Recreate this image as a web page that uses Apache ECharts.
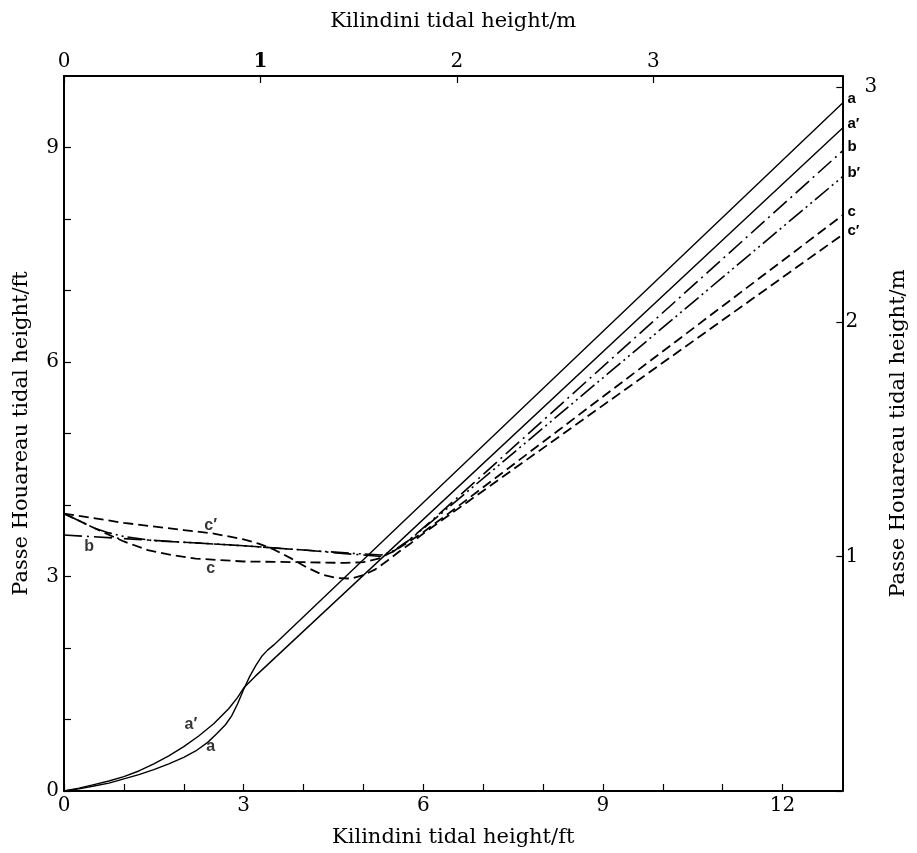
<!DOCTYPE html>
<html>
<head>
<meta charset="utf-8">
<title>Kilindini / Passe Houareau tidal heights</title>
<script src="https://cdn.jsdelivr.net/npm/echarts@6/dist/echarts.min.js"></script>
<style>
  html, body { margin: 0; padding: 0; background: #fff; }
  #chart { width: 917px; height: 853px; }
</style>
</head>
<body>
<div id="chart"></div>
<script>
// Kilindini tidal height (ft) against Passe Houareau tidal height (ft)
const FT_TO_M = 0.3048;
const X_MAX_FT = 13;
const Y_MAX_FT = 10;

// curve a
const aX = [0, 0.25, 0.5, 0.75, 1, 1.25, 1.5, 1.75, 2, 2.2, 2.4, 2.55, 2.7, 2.8, 2.9, 3.0, 3.1, 3.2, 3.3, 3.4, 3.5, 13];
const aY = [0, 0.03, 0.07, 0.11, 0.17, 0.23, 0.3, 0.38, 0.47, 0.56, 0.68, 0.8, 0.93, 1.05, 1.22, 1.42, 1.6, 1.75, 1.88, 1.97, 2.04, 9.62];
// curve a'
const aPX = [0, 0.25, 0.5, 0.75, 1, 1.25, 1.5, 1.75, 2, 2.25, 2.5, 2.75, 2.9, 3.0, 3.2, 13];
const aPY = [0, 0.04, 0.09, 0.14, 0.2, 0.28, 0.38, 0.49, 0.62, 0.77, 0.94, 1.15, 1.31, 1.44, 1.61, 9.27];
// curve b
const bX = [0, 1, 2, 3, 4, 4.7, 5.3, 5.5, 5.75, 6, 6.3, 13];
const bY = [3.58, 3.53, 3.48, 3.43, 3.37, 3.32, 3.28, 3.35, 3.5, 3.68, 3.9, 8.95];
// curve b'
const bPX = [0, 0.25, 0.5, 0.75, 1.0, 1.5, 2.2, 3, 4, 4.7, 5.3, 5.5, 5.75, 6, 6.3, 13];
const bPY = [3.88, 3.78, 3.68, 3.61, 3.56, 3.5, 3.47, 3.43, 3.37, 3.33, 3.3, 3.36, 3.5, 3.67, 3.88, 8.59];
// curve c
const cX = [0, 0.3, 0.6, 1, 1.4, 1.8, 2.2, 3, 4, 4.7, 5.0, 5.25, 5.5, 5.75, 6, 6.5, 13];
const cY = [3.88, 3.76, 3.64, 3.49, 3.37, 3.3, 3.25, 3.21, 3.2, 3.19, 3.2, 3.25, 3.35, 3.48, 3.62, 3.93, 8.05];
// curve c'
const cPX = [0, 1, 2, 2.5, 3.0, 3.25, 3.5, 3.8, 4.05, 4.3, 4.55, 4.8, 5.0, 5.2, 5.4, 5.6, 5.8, 6.0, 6.5, 13];
const cPY = [3.88, 3.75, 3.65, 3.6, 3.52, 3.46, 3.38, 3.25, 3.13, 3.03, 2.98, 2.97, 3.02, 3.1, 3.22, 3.35, 3.47, 3.6, 3.9, 7.78];

// curve names
const curveNames = ['a', 'a\u2032', 'b', 'b\u2032', 'c', 'c\u2032'];

// tick labels
const ftTickLabels = [0, 3, 6, 9, 12];
const leftTickLabels = [0, 3, 6, 9];
const mTickLabels = [0, 1, 2, 3];
const rightTickLabels = [1, 2, 3];

// in-plot curve tags (anchor in ft coordinates)
const tagNames = ['c\u2032', 'c', 'b', 'a\u2032', 'a'];
const tagX = [2.45, 2.45, 0.42, 2.12, 2.45];
const tagY = [3.72, 3.12, 3.42, 0.93, 0.63];

const serif = '"DejaVu Serif", "Liberation Serif", serif';
const sans = '"Liberation Sans", "DejaVu Sans", sans-serif';

const zip = (xs, ys) => xs.map((x, i) => [x, ys[i]]);

const lineDefs = [
  { name: curveNames[0], xs: aX, ys: aY, type: 'solid', width: 1.4 },
  { name: curveNames[1], xs: aPX, ys: aPY, type: 'solid', width: 1.4 },
  { name: curveNames[2], xs: bX, ys: bY, type: [18, 5, 2, 5], width: 1.6 },
  { name: curveNames[3], xs: bPX, ys: bPY, type: [18, 4, 2, 4, 2, 4], width: 1.6 },
  { name: curveNames[4], xs: cX, ys: cY, type: [10, 5], width: 1.8 },
  { name: curveNames[5], xs: cPX, ys: cPY, type: [10, 5], width: 1.8 }
];

const series = lineDefs.map(d => ({
  name: d.name,
  type: 'line',
  xAxisIndex: 0,
  yAxisIndex: 0,
  data: zip(d.xs, d.ys),
  smooth: false,
  showSymbol: false,
  symbol: 'none',
  silent: true,
  clip: false,
  itemStyle: { color: '#000' },
  lineStyle: { color: '#000', width: d.width, type: d.type, cap: 'butt', join: 'round' },
  endLabel: {
    show: true,
    formatter: d.name,
    distance: 5,
    offset: [0, -4],
    color: '#000',
    fontFamily: sans,
    fontWeight: 'bold',
    fontSize: 15
  }
}));

series.push({
  name: 'tags',
  type: 'scatter',
  xAxisIndex: 0,
  yAxisIndex: 0,
  symbolSize: 1,
  silent: true,
  itemStyle: { color: 'rgba(0,0,0,0)' },
  data: tagNames.map((n, i) => ({ name: n, value: [tagX[i], tagY[i]] })),
  label: {
    show: true,
    position: 'top',
    distance: -9,
    formatter: p => p.name,
    color: '#000',
    textBorderWidth: 0,
    fontFamily: sans,
    fontWeight: 'bold',
    fontSize: 16
  }
});

const axisLineStyle = { color: '#000', width: 2 };
const tickStyle = { color: '#000', width: 1.2 };
const numberFont = { fontFamily: serif, fontSize: 20, color: '#000' };
const nameFont = { fontFamily: serif, fontSize: 21, color: '#000' };

const option = {
  backgroundColor: '#fff',
  animation: false,
  grid: { left: 64, right: 64, top: 76, bottom: 60, containLabel: false },
  xAxis: [
    {
      type: 'value',
      position: 'bottom',
      min: 0,
      max: X_MAX_FT,
      interval: 1,
      name: 'Kilindini tidal height/ft',
      nameLocation: 'middle',
      nameGap: 36,
      nameTextStyle: nameFont,
      axisLine: { show: true, onZero: false, lineStyle: axisLineStyle },
      axisTick: { show: true, inside: true, length: 7, lineStyle: tickStyle },
      axisLabel: Object.assign({
        show: true,
        margin: 5,
        showMaxLabel: false,
        formatter: v => ftTickLabels.includes(v) ? String(v) : ''
      }, numberFont),
      splitLine: { show: false }
    },
    {
      type: 'value',
      position: 'top',
      min: 0,
      max: X_MAX_FT * FT_TO_M,
      interval: 1,
      name: 'Kilindini tidal height/m',
      nameLocation: 'middle',
      nameGap: 44,
      nameTextStyle: nameFont,
      axisLine: { show: true, onZero: false, lineStyle: axisLineStyle },
      axisTick: { show: true, inside: true, length: 7, lineStyle: tickStyle },
      axisLabel: Object.assign({
        show: true,
        margin: 4,
        showMaxLabel: false,
        formatter: v => {
          if (!mTickLabels.includes(v)) return '';
          return v === 1 ? '{bold|1}' : String(v);
        },
        rich: { bold: { fontFamily: serif, fontSize: 20, fontWeight: 'bold', color: '#000' } }
      }, numberFont),
      splitLine: { show: false }
    }
  ],
  yAxis: [
    {
      type: 'value',
      position: 'left',
      min: 0,
      max: Y_MAX_FT,
      interval: 1,
      name: 'Passe Houareau tidal height/ft',
      nameLocation: 'middle',
      nameGap: 32,
      nameTextStyle: nameFont,
      axisLine: { show: true, onZero: false, lineStyle: axisLineStyle },
      axisTick: { show: true, inside: true, length: 7, lineStyle: tickStyle },
      axisLabel: Object.assign({
        show: true,
        margin: 5,
        showMaxLabel: false,
        formatter: v => leftTickLabels.includes(v) ? String(v) : ''
      }, numberFont),
      splitLine: { show: false }
    },
    {
      type: 'value',
      position: 'right',
      min: 0,
      max: Y_MAX_FT * FT_TO_M,
      interval: 1,
      name: 'Passe Houareau tidal height/m',
      nameLocation: 'middle',
      nameGap: 38,
      nameTextStyle: nameFont,
      axisLine: { show: true, onZero: false, lineStyle: axisLineStyle },
      axisTick: { show: true, inside: true, length: 6, lineStyle: tickStyle },
      axisLabel: Object.assign({
        show: true,
        margin: 3,
        showMaxLabel: false,
        formatter: v => {
          if (!rightTickLabels.includes(v)) return '';
          return v === 3 ? '{far|3}' : String(v);
        },
        rich: {
          far: { fontFamily: serif, fontSize: 20, color: '#000', padding: [0, 0, 0, 19] }
        }
      }, numberFont),
      splitLine: { show: false }
    }
  ],
  series: series
};

const chart = echarts.init(document.getElementById('chart'), null, { renderer: 'canvas' });
chart.setOption(option);
</script>
</body>
</html>
